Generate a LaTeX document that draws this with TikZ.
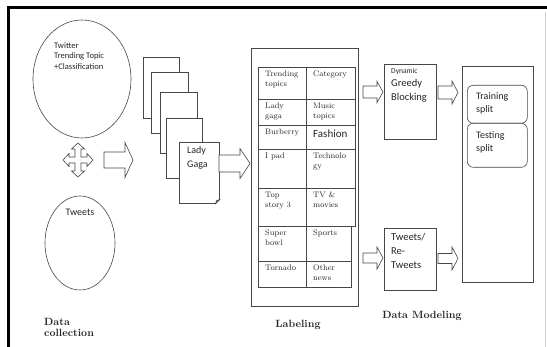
\documentclass[tikz,border=0pt]{standalone}
\usepackage{fontspec}
\newfontfamily\calib{Carlito}
\usetikzlibrary{shapes.geometric}
\tikzset{
  ln/.style={draw=black!72, line width=0.6pt},
  boxn/.style={ln, fill=white, inner sep=0pt, anchor=north west},
  sanstext/.style={inner sep=0pt, align=left, anchor=north west, text=black!85},
  celltext/.style={inner sep=0pt, align=left, anchor=north west, text=black!85,
     font=\fontsize{8}{10}\selectfont},
  title/.style={inner sep=0pt, align=left, font=\bfseries\fontsize{10.5}{11.5}\selectfont, text=black!85},
  splitbox/.style={ln, rounded corners=6pt, fill=white, inner sep=0pt, anchor=north west,
     minimum width=60pt},
}
\newcommand\tcell[6]{%
  \node[boxn, minimum width=#4, minimum height=#5] (#1) at (#2,#3) {};
  \node[celltext] at ([shift={(7,4)}]#1.north west) {#6};}
% block arrow: name, x tail, y centre, x head base, x tip, shaft half, head half
\newcommand\blockarrow[7]{%
  \draw[ln, fill=white] (#2,#3-#6) -- (#4,#3-#6) -- (#4,#3-#7) -- (#5,#3)
    -- (#4,#3+#7) -- (#4,#3+#6) -- (#2,#3+#6) -- cycle;
  \coordinate (#1) at (#5,#3);}
\begin{document}
\begin{tikzpicture}[x=1pt,y=-1pt]
\useasboundingbox (0,0) rectangle (547,347);
\fill[white] (0,0) rectangle (547,347);
% outer frame
\draw[line width=3pt] (8,347) -- (8,7.5) -- (547,7.5);
\draw[black!18, line width=0.6pt] (545.5,12) -- (545.5,347);

% Data collection
\node[ellipse, ln, inner sep=0pt, minimum width=98pt, minimum height=118pt] (twitter) at (82,79) {};
\node[sanstext, font=\calib\fontsize{8.5}{10.5}\selectfont] (twtext) at (54,42) {Twitter\\Trending Topic\\+Classification};
\node[ellipse, ln, inner sep=0pt, minimum width=70pt, minimum height=94pt] (tweets) at (80,243) {};
\node[inner sep=0pt, font=\calib\fontsize{10}{12}\selectfont, text=black!85] (twtxt) at (80,212) {Tweets};
\node[title, anchor=west] (dc) at (44,327.5) {Data\\collection};

% four-way arrow
\draw[ln, fill=white] (78,160) ++(0,-17) -- ++(6.5,6) -- ++(-3.5,0) -- ++(0,8) -- ++(6,0) -- ++(0,-3.5)
  -- ++(6,6.5) -- ++(-6,6.5) -- ++(0,-3.5) -- ++(-6,0) -- ++(0,8) -- ++(3.5,0) -- ++(-6.5,6)
  -- ++(-6.5,-6) -- ++(3.5,0) -- ++(0,-8) -- ++(-6,0) -- ++(0,3.5) -- ++(-6,-6.5) -- ++(6,-6.5)
  -- ++(0,3.5) -- ++(6,0) -- ++(0,-8) -- ++(-3.5,0) -- cycle;

\blockarrow{arrA}{104}{160}{125}{133}{8}{17.5}

% pages
\node[boxn, minimum width=36pt, minimum height=61pt] (p1) at (143,57) {};
\node[boxn, minimum width=37pt, minimum height=61pt] (p2) at (151,72) {};
\node[boxn, minimum width=37pt, minimum height=61pt] (p3) at (160,92) {};
\node[boxn, minimum width=36pt, minimum height=60pt] (p4) at (166,118) {};
\node[boxn, minimum width=40pt, minimum height=61pt] (p5) at (179,142) {};
\fill[white] ([shift={(0.4,0.4)}]p5.south east) -- ++(-4.5,0) -- ++(4.5,-4.5) -- cycle;
\draw[ln] ([shift={(-4,0)}]p5.south east) -- ([shift={(0,-4)}]p5.south east);
\draw[ln, fill=black!25] ([shift={(-4,0)}]p5.south east) -- ([shift={(-3,-3)}]p5.south east) -- ([shift={(0,-4)}]p5.south east) -- cycle;
\node[sanstext, font=\calib\fontsize{10}{14}\selectfont] (lg) at (187,146) {Lady\\Gaga};

\blockarrow{arrB}{219}{163.5}{240}{250}{8.5}{15}

% Labeling
\node[boxn, minimum width=107pt, minimum height=258pt] (labbox) at (251,48) {};
\tcell{c11}{258}{67}{48}{32}{Trending\\topics}
\tcell{c12}{306}{67}{49}{32}{Category}
\tcell{c21}{258}{99}{48}{26}{Lady\\gaga}
\tcell{c22}{306}{99}{49}{26}{Music\\topics}
\tcell{c31}{258}{125}{48}{24}{Burberry}
\node[boxn, minimum width=49pt, minimum height=24pt] (c32) at (306,125) {};
\node[sanstext, font=\calib\fontsize{11}{13}\selectfont] at ([shift={(7,5)}]c32.north west) {Fashion};
\tcell{c41}{258}{149}{48}{39}{I pad}
\tcell{c42}{306}{149}{49}{39}{Technolo\\gy}
\tcell{c51}{258}{188}{48}{38}{Top\\story 3}
\tcell{c52}{306}{188}{49}{38}{TV \&\\movies}
\tcell{c61}{258}{226}{48}{35}{Super\\bowl}
\tcell{c62}{306}{226}{45}{35}{Sports}
\tcell{c71}{258}{261}{48}{26}{Tornado}
\tcell{c72}{306}{261}{45}{26}{Other\\news}
\node[title] (lab) at (298,325) {Labeling};

% Data modeling
\blockarrow{arrC}{363}{92}{377}{383}{6}{10.5}
\node[boxn, minimum width=52pt, minimum height=75pt] (dgb) at (384,64) {};
\node[sanstext, font=\calib\fontsize{10.5}{14}\selectfont] (dgbt) at (391,68)
  {{\fontsize{7.5}{9}\selectfont Dynamic}\\[-1pt]Greedy\\Blocking};
\blockarrow{arrD}{438}{92.5}{452}{458}{6.5}{11.5}

\blockarrow{arrE}{363}{258}{377}{383}{5}{11}
\node[boxn, minimum width=52pt, minimum height=62pt] (trt) at (384,228) {};
\node[sanstext, font=\calib\fontsize{10.5}{14}\selectfont] (trtt) at (391,233) {Tweets/\\Re-\\Tweets};
\blockarrow{arrF}{438}{258.5}{452}{458}{5}{11.5}

\node[boxn, minimum width=71pt, minimum height=216pt] (model) at (462,66) {};
\node[splitbox, minimum height=38pt] (train) at (467,85) {};
\node[splitbox, minimum height=44pt] (test) at (467,123) {};
\node[sanstext, font=\calib\fontsize{10}{13}\selectfont] at (476,92) {Training\\split};
\node[sanstext, font=\calib\fontsize{10}{13}\selectfont] at (476,131) {Testing\\split};
\node[title] (dm) at (422,316) {Data Modeling};
\end{tikzpicture}
\end{document}
